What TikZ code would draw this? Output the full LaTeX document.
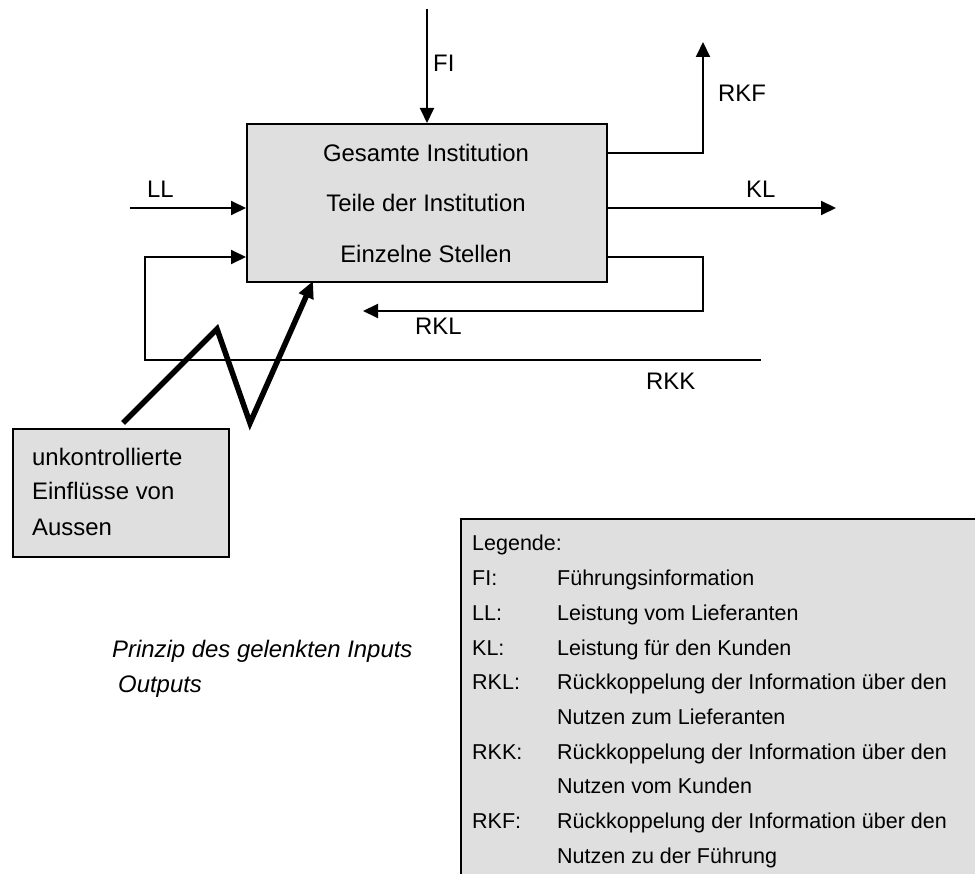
\documentclass[tikz,border=0pt]{standalone}
\usepackage{fontspec}
\setmainfont{Liberation Sans}
\usetikzlibrary{arrows.meta,calc}
\definecolor{boxgray}{HTML}{DFDFDF}
\tikzset{
  txt/.style={inner sep=0pt, font=\fontsize{23.9pt}{28pt}\selectfont},
  lgd/.style={inner sep=0pt, anchor=base west, font=\fontsize{21.5pt}{26pt}\selectfont},
  arr/.style={line width=2pt, -{Triangle[length=15pt,width=14pt]}},
  plain/.style={line width=2pt},
  zz/.style={line width=5.5pt, -{Triangle[length=17pt,width=15pt]}},
  graybox/.style={draw, line width=2pt, fill=boxgray, inner sep=0pt, anchor=north west}
}
\begin{document}
\begin{tikzpicture}[x=1pt,y=-1pt]
\useasboundingbox (0,0) rectangle (975,874);
% legend background
\node[fill=boxgray, inner sep=0pt, anchor=north west, minimum width=514pt, minimum height=355pt] (legend) at (461,519) {};
\draw[plain] (legend.south west) -- (legend.north west) -- (legend.north east);
% main box
\node[graybox, minimum width=360pt, minimum height=158pt] (main) at (246,123) {};
\node[txt, anchor=base] (t1) at (426,162) {Gesamte Institution};
\node[txt, anchor=base] (t2) at (426,212) {Teile der Institution};
\node[txt, anchor=base] (t3) at (426,263) {Einzelne Stellen};
% external box
\node[graybox, minimum width=216pt, minimum height=128pt] (ext) at (12,428) {};
\node[txt, anchor=base west] (e1) at (32,466) {unkontrollierte};
\node[txt, anchor=base west] (e2) at (32,500) {Einflüsse von};
\node[txt, anchor=base west] (e3) at (32,535) {Aussen};
% FI
\coordinate (fiS) at (427,9);
\draw[arr] (fiS) -- (fiS |- main.north);
\node[txt, anchor=base west] (lfi) at (433,72) {FI};
% LL
\coordinate (llS) at (130,208);
\draw[arr] (llS) -- (llS -| main.west);
\node[txt, anchor=base west] (lll) at (147,198) {LL};
% RKK loop
\coordinate (rkkE) at (761,360);
\coordinate (rkkC) at (145,360);
\coordinate (rkkU) at (145,257);
\draw[arr] (rkkE) -- (rkkC) -- (rkkU) -- (rkkU -| main.west);
\node[txt, anchor=base west] (lrkk) at (646,390) {RKK};
% RKL
\coordinate (rklA) at (703,257);
\coordinate (rklB) at (703,311);
\coordinate (rklT) at (363,311);
\draw[arr] (rklA -| main.east) -- (rklA) -- (rklB) -- (rklT);
\node[txt, anchor=base west] (lrkl) at (415,335) {RKL};
% KL
\coordinate (klE) at (836,208);
\draw[arr] (klE -| main.east) -- (klE);
\node[txt, anchor=base west] (lkl) at (746,198) {KL};
% RKF
\coordinate (rkfA) at (703,153);
\coordinate (rkfT) at (703,42);
\draw[arr] (rkfA -| main.east) -- (rkfA) -- (rkfT);
\node[txt, anchor=base west] (lrkf) at (718,102) {RKF};
% zigzag
\coordinate (zz0) at (123,423);
\coordinate (zz1) at (217,329);
\coordinate (zz2) at (250,423);
\coordinate (zzE) at (313,281);
\draw[zz] (zz0) -- (zz1) -- (zz2) -- (zzE);
% caption
\node[txt, anchor=base west, font=\fontsize{23.9pt}{28pt}\selectfont\itshape] (c1) at (112,657) {Prinzip des gelenkten Inputs};
\node[txt, anchor=base west, font=\fontsize{23.9pt}{28pt}\selectfont\itshape] (c2) at (118,692) {Outputs};
% legend text
\node[lgd] (g0) at (472,550) {Legende:};
\node[lgd] (g1a) at (472,585) {FI:};
\node[lgd] (g1b) at (557,585) {Führungsinformation};
\node[lgd] (g2a) at (472,620) {LL:};
\node[lgd] (g2b) at (557,620) {Leistung vom Lieferanten};
\node[lgd] (g3a) at (472,655) {KL:};
\node[lgd] (g3b) at (557,655) {Leistung für den Kunden};
\node[lgd] (g4a) at (472,689) {RKL:};
\node[lgd] (g4b) at (557,689) {Rückkoppelung der Information über den};
\node[lgd] (g5b) at (557,724) {Nutzen zum Lieferanten};
\node[lgd] (g6a) at (472,759) {RKK:};
\node[lgd] (g6b) at (557,759) {Rückkoppelung der Information über den};
\node[lgd] (g7b) at (557,793) {Nutzen vom Kunden};
\node[lgd] (g8a) at (472,828) {RKF:};
\node[lgd] (g8b) at (557,828) {Rückkoppelung der Information über den};
\node[lgd] (g9b) at (557,863) {Nutzen zu der Führung};
\end{tikzpicture}
\end{document}
